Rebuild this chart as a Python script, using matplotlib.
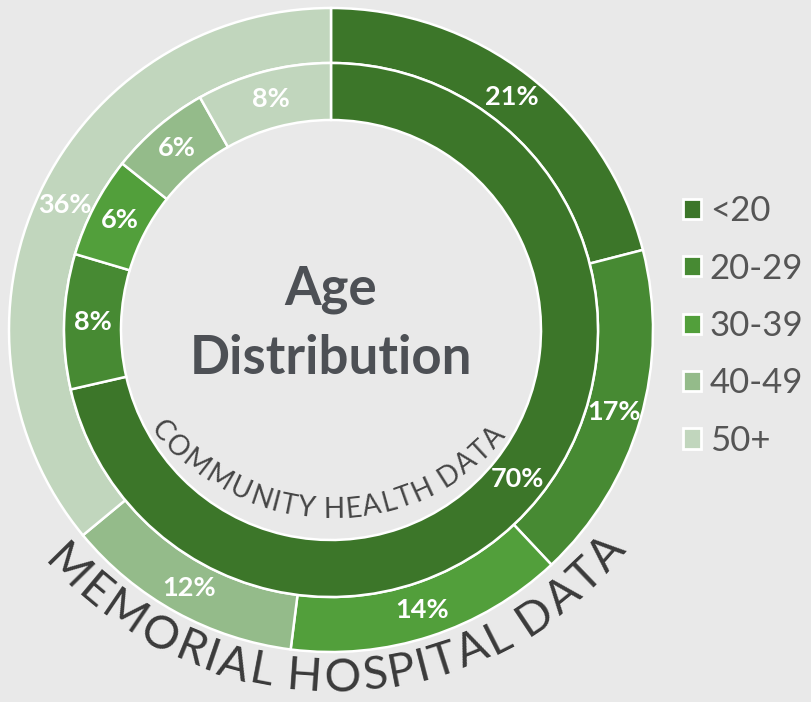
import matplotlib
matplotlib.use('Agg')
import numpy as np
import matplotlib.pyplot as plt
import matplotlib.patches as mpatches
from matplotlib.font_manager import FontProperties

# data
categories = ['<20', '20-29', '30-39', '40-49', '50+']
hospital_pct = [21, 17, 14, 12, 36]    # outer ring - Memorial Hospital
community_pct = [70, 8, 6, 6, 8]       # inner ring - Community Health
colors = ['#3c7629', '#478a33', '#529f3b', '#94bb8a', '#c1d6bd']
title = 'Age Distribution'
outer_name = 'MEMORIAL HOSPITAL DATA'
inner_name = 'COMMUNITY HEALTH DATA'

FONTS = ['Lato', 'DejaVu Sans']
W, H = 811, 702

fig = plt.figure(figsize=(W / 100, H / 100), dpi=100, facecolor='#e9e9e9')
ax = fig.add_axes([0, 0, 1, 1])

# pie centre and radii in pixels (axes run in pixel units)
cx, cy = 331, H - 330
R_out, w_out = 322, 55
R_in, w_in = 267, 57

outer_wedges, _ = ax.pie(hospital_pct, colors=colors, radius=R_out, center=(cx, cy),
                         startangle=90, counterclock=False,
                         wedgeprops=dict(width=w_out, edgecolor='white', linewidth=1.8))
inner_wedges, _ = ax.pie(community_pct, colors=colors, radius=R_in, center=(cx, cy),
                         startangle=90, counterclock=False,
                         wedgeprops=dict(width=w_in, edgecolor='white', linewidth=1.8))

ax.set_xlim(0, W)
ax.set_ylim(0, H)
ax.set_aspect('equal')
ax.axis('off')


# percentage labels in the middle of every segment
def label_ring(wedges, values, r):
    for w, v in zip(wedges, values):
        a = np.deg2rad((w.theta1 + w.theta2) / 2)
        ax.text(cx + r * np.cos(a), cy + r * np.sin(a), f'{v}%', ha='center', va='center',
                fontsize=19.5, fontweight='bold', color='white', family=FONTS)


label_ring(outer_wedges, hospital_pct, R_out - w_out / 2)
label_ring(inner_wedges, community_pct, R_in - w_in / 2)

# centre title
for i, line in enumerate(title.split(' ')):
    ax.text(cx, H - 304 - i * 70, line, ha='center', va='baseline', fontsize=38,
            fontweight='bold', color='#4d5055', family=FONTS)

# text bent round the bottom of a circle
renderer = fig.canvas.get_renderer()


def arc_text(s, x0, y0, r, mid, span, size, color):
    prop = FontProperties(family=FONTS, size=size, weight='normal')

    def width(t):
        return renderer.get_text_width_height_descent(t, prop, ismath=False)[0]

    cum = [width('|' + s[:i] + '|') - width('||') for i in range(len(s) + 1)]
    centres = [(cum[i] + cum[i + 1]) / 2 for i in range(len(s))]
    cap = size * 100 / 72 * 0.72
    rb = r + cap / 2
    for ch, c in zip(s, centres):
        if ch == ' ':
            continue
        frac = (c - centres[0]) / (centres[-1] - centres[0])
        phi = mid - span / 2 + frac * span
        a = np.deg2rad(phi)
        ax.text(x0 + rb * np.cos(a), y0 + rb * np.sin(a), ch, rotation=phi + 90,
                rotation_mode='anchor', ha='center', va='baseline',
                fontproperties=prop, color=color)


arc_text(outer_name, cx, H - 309, 366, -88.5, 94, 33, '#3a3a3a')
arc_text(inner_name, cx, H - 290, 218, -91.2, 98, 20, '#454545')

# legend
handles = [mpatches.Rectangle((0, 0), 1, 1, facecolor=c, edgecolor='white', linewidth=2)
           for c in colors]
leg = ax.legend(handles, categories, loc='center left', bbox_to_anchor=(683 / W, (H - 326) / H),
                bbox_transform=fig.transFigure, frameon=False, borderpad=0, borderaxespad=0,
                handlelength=0.52, handleheight=0.52, handletextpad=0.25, labelspacing=0.73,
                prop=FontProperties(family=FONTS, size=25, weight='normal'))
for t in leg.get_texts():
    t.set_color('#555555')

fig.savefig('out.png', dpi=100, facecolor=fig.get_facecolor())
